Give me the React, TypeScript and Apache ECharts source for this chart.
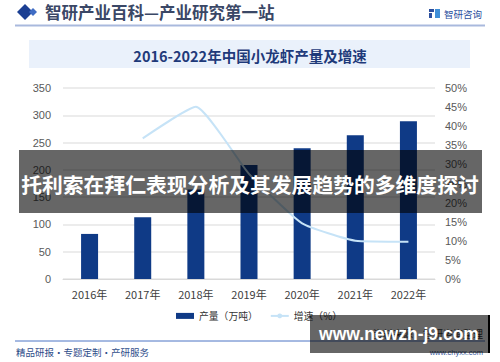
import React, { useEffect, useRef } from "react";
import * as echarts from "echarts";

const categories = ["2016年", "2017年", "2018年", "2019年", "2020年", "2021年", "2022年"];
const production = [82.6, 112.97, 163.87, 208.96, 239.37, 263.36, 289.07];
const growth = [null, 36.8, 45.06, 27.52, 14.55, 10.02, 9.76];
const seriesNames = ["产量（万吨）", "增速（%）"];
const chartTitle = "2016-2022年中国小龙虾产量及增速";
const headerText = "智研产业百科—产业研究第一站";
const bannerText = "托利索在拜仁表现分析及其发展趋势的多维度探讨";
const siteText = "www.newzh-j9.com";
const footerLeft = "精品研报・专题定制・产研服务";
const footerSource = "资料来源：智研咨询整理";
const footerUrl = "www.chyxx.com";
const logoText = "智研咨询";

const CJK = '"Noto Sans CJK SC", "Noto Sans", sans-serif';

export default function App() {
  const ref = useRef<HTMLDivElement>(null);
  useEffect(() => {
    document.body.style.margin = "0";
    const chart = echarts.init(ref.current!, null, { renderer: "svg" });
    chart.setOption({
      animation: false,
      backgroundColor: "#ffffff",
      grid: { left: 63, right: 65, top: 88, bottom: 83 },
      legend: {
        top: 306,
        left: 171,
        itemGap: 12,
        itemWidth: 18,
        itemHeight: 6,
        textStyle: { fontSize: 9.8, color: "#333", fontFamily: CJK },
        data: [
          { name: seriesNames[0], icon: "rect" },
          { name: seriesNames[1] },
        ],
      },
      xAxis: {
        type: "category",
        data: categories,
        axisTick: { show: false },
        axisLine: { lineStyle: { color: "#d9d9d9" } },
        axisLabel: { fontSize: 11, color: "#404040", margin: 9, fontFamily: CJK },
      },
      yAxis: [
        {
          type: "value",
          min: 0,
          max: 350,
          interval: 50,
          axisLine: { show: false },
          axisTick: { show: false },
          axisLabel: { fontSize: 11, color: "#595959", margin: 12 },
          splitLine: { lineStyle: { color: "#e6e6e6", width: 1.5 } },
        },
        {
          type: "value",
          min: 0,
          max: 50,
          interval: 5,
          axisLine: { show: false },
          axisTick: { show: false },
          axisLabel: { fontSize: 11, color: "#595959", margin: 10, formatter: "{value}%" },
          splitLine: { show: false },
        },
      ],
      series: [
        {
          name: seriesNames[0],
          type: "bar",
          data: production,
          barWidth: 17,
          itemStyle: { color: "#0f3a86" },
        },
        {
          name: seriesNames[1],
          type: "line",
          yAxisIndex: 1,
          data: growth,
          smooth: 0.15,
          symbol: "none",
          lineStyle: { color: "#c6e3f7", width: 2 },
          itemStyle: { color: "#c6e3f7" },
        },
      ],
      graphic: [
        // header
        { type: "polygon", z: 5, shape: { points: [[17, 12], [25, 4], [33, 12], [25, 20]] }, style: { fill: "#1b3f93" } },
        { type: "polygon", z: 5, shape: { points: [[29, 12], [33, 8], [37, 12], [33, 16]] }, style: { fill: "#3f6cc4" } },
        {
          type: "text", z: 5, x: 45, y: 12,
          style: { text: headerText, fontSize: 16.5, fontWeight: "bold", fill: "#3a4766", fontFamily: CJK, textVerticalAlign: "middle" },
        },
        { type: "line", z: 5, shape: { x1: 15, y1: 25.5, x2: 485, y2: 25.5 }, style: { stroke: "#a9b9dd", lineWidth: 2 } },
        { type: "rect", z: 5, shape: { x: 429, y: 9, width: 5, height: 3 }, style: { fill: "#2c4f9e" } },
        { type: "rect", z: 5, shape: { x: 429, y: 13, width: 3, height: 5 }, style: { fill: "#2c4f9e" } },
        { type: "rect", z: 5, shape: { x: 435, y: 9, width: 5, height: 9 }, style: { fill: "#3f8fd8" } },
        {
          type: "text", z: 5, x: 444, y: 13.5,
          style: { text: logoText, fontSize: 9.5, fill: "#2c4f9e", fontFamily: CJK, textVerticalAlign: "middle" },
        },
        // title box
        { type: "rect", z: -1, shape: { x: 29, y: 40, width: 441, height: 28 }, style: { fill: "#eaf1fb" } },
        {
          type: "text", z: 5, x: 250, y: 55,
          style: { text: chartTitle, fontSize: 14.5, fontWeight: "bold", fill: "#1f3a7a", fontFamily: CJK, textAlign: "center", textVerticalAlign: "middle" },
        },
        // footer
        { type: "line", z: 5, shape: { x1: 15, y1: 341, x2: 485, y2: 341 }, style: { stroke: "#4d74c4", lineWidth: 1 } },
        {
          type: "text", z: 5, x: 16, y: 352,
          style: { text: footerLeft, fontSize: 9.5, fill: "#2f4d8a", fontFamily: CJK, textVerticalAlign: "middle" },
        },
        {
          type: "text", z: 5, x: 483, y: 333,
          style: { text: footerSource, fontSize: 10, fill: "#333", fontFamily: CJK, textAlign: "right", textVerticalAlign: "middle" },
        },
        {
          type: "text", z: 5, x: 483, y: 352,
          style: { text: footerUrl, fontSize: 7.5, fill: "#3a5aa0", fontFamily: '"Liberation Sans", sans-serif', textAlign: "right", textVerticalAlign: "middle" },
        },
        // overlay banners
        { type: "rect", z: 100, shape: { x: 19, y: 150, width: 463, height: 63 }, style: { fill: "rgba(0,0,0,0.6)" } },
        {
          type: "text", z: 101, x: 250, y: 184,
          style: { text: bannerText, fontSize: 20.8, fontWeight: "bold", fill: "#ffffff", fontFamily: CJK, textAlign: "center", textVerticalAlign: "middle" },
        },
        { type: "rect", z: 100, shape: { x: 310, y: 315, width: 178, height: 38 }, style: { fill: "rgba(0,0,0,0.6)" } },
        { type: "rect", z: 100, shape: { x: 488, y: 315, width: 2, height: 38 }, style: { fill: "#000000" } },
        {
          type: "text", z: 101, x: 399, y: 334,
          style: { text: siteText, fontSize: 17.5, fontWeight: "bold", fill: "#ffffff", fontFamily: '"Liberation Sans", Arial, sans-serif', textAlign: "center", textVerticalAlign: "middle" },
        },
      ],
    });
    return () => chart.dispose();
  }, []);
  return <div ref={ref} style={{ position: "fixed", left: 0, top: 0, width: 500, height: 362 }} />;
}
